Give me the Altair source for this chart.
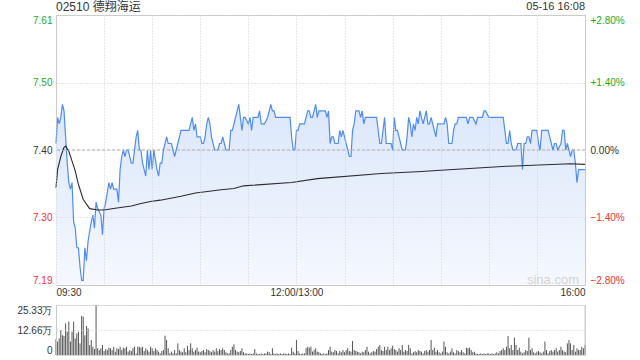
import altair as alt
import pandas as pd

# ---------------- data ----------------
TITLE = "02510 德翔海运"
STAMP = "05-16 16:08"
WATERMARK = "sina.com"

PREV_CLOSE = 7.40
Y_MIN, Y_MAX = 7.1928, 7.6072
PRICE_TICKS = [7.1928, 7.2964, 7.40, 7.5036, 7.6072]
PCT_TICKS = [-2.8, -1.4, 0.0, 1.4, 2.8]
TIME_TICKS = [0, 30, 60, 90, 120, 150, 180, 210, 240, 270, 300, 330]
VOL_TICKS = [0, 12.66, 25.33]

# (trading minute since 09:30, price)
PRICE_AM = [(0,7.41),(1,7.45),(2,7.44),(3,7.45),(4,7.47),(5,7.46),(6,7.42),(7,7.38),(8,7.35),(9,7.34),
            (10,7.35),(11,7.29),(12,7.28),(13,7.25),(14,7.25),(15,7.22),(16,7.20),(17,7.20),(18,7.25),
            (19,7.23),(20,7.26),(22,7.29),(23,7.30),(24,7.28),(25,7.32),(26,7.31),(28,7.30),(29,7.27),
            (30,7.31),(31,7.32),(33,7.35),(34,7.34),(35,7.35),(36,7.34),(38,7.34),(39,7.32),(40,7.37),
            (41,7.39),(42,7.40),(43,7.39),(44,7.40),(45,7.40),(47,7.38),(48,7.38),(50,7.42),(51,7.43),
            (52,7.40),(53,7.40),(54,7.38),(55,7.37),(56,7.36),(57,7.40),(58,7.37),(59,7.40),(60,7.37),
            (61,7.40),(63,7.37),(64,7.36),(65,7.38),(66,7.38),(67,7.40),(68,7.41),(69,7.42),(70,7.41),
            (72,7.41),(73,7.40),(74,7.39),(75,7.40),(77,7.42),(78,7.43),(80,7.43),(83,7.43),(84,7.44),
            (85,7.45),(86,7.43),(87,7.44),(88,7.42),(90,7.42),(91,7.41),(92,7.41),(93,7.42),(94,7.44),
            (95,7.45),(96,7.44),(97,7.42),(98,7.41),(99,7.40),(101,7.40),(102,7.41),(103,7.41),(104,7.42),
            (105,7.41),(106,7.40),(108,7.40),(109,7.43),(110,7.43),(112,7.45),(113,7.46),(114,7.47),
            (115,7.45),(116,7.43),(117,7.45),(118,7.45),(120,7.44),(121,7.45),(122,7.43),(123,7.45),
            (126,7.45),(127,7.46),(128,7.44),(130,7.44),(132,7.45),(134,7.47),(135,7.46),(136,7.46),
            (137,7.45),(146,7.45),(147,7.42),(148,7.40),(149,7.40),(150,7.43)]
PRICE_PM = [(151,7.43),(152,7.44),(155,7.44),(156,7.45),(157,7.46),(158,7.46),(159,7.45),(160,7.45),
            (162,7.47),(163,7.45),(164,7.46),(168,7.46),(169,7.45),(170,7.46),(171,7.41),(172,7.42),
            (173,7.42),(174,7.41),(176,7.41),(177,7.43),(178,7.42),(179,7.43),(180,7.42),(181,7.41),
            (182,7.40),(183,7.39),(184,7.39),(185,7.43),(186,7.44),(187,7.46),(189,7.46),(190,7.45),
            (191,7.46),(192,7.44),(193,7.45),(200,7.45),(201,7.43),(202,7.41),(203,7.41),(205,7.45),
            (206,7.41),(209,7.41),(210,7.40),(211,7.45),(212,7.43),(213,7.43),(214,7.42),(215,7.41),
            (216,7.40),(218,7.40),(219,7.42),(220,7.45),(221,7.44),(222,7.42),(223,7.44),(224,7.43),
            (225,7.45),(226,7.44),(227,7.46),(228,7.45),(229,7.44),(230,7.45),(231,7.46),(232,7.44),
            (233,7.44),(234,7.45),(235,7.44),(236,7.43),(237,7.42),(238,7.44),(242,7.44),(243,7.45),
            (244,7.44),(245,7.41),(247,7.41),(248,7.43),(249,7.44),(250,7.44),(251,7.45),(256,7.45),
            (257,7.44),(258,7.45),(260,7.45),(262,7.44),(263,7.45),(266,7.45),(267,7.46),(268,7.46),
            (270,7.45),(279,7.45),(280,7.43),(281,7.41),(282,7.41),(283,7.43),(284,7.41),(285,7.40),
            (287,7.40),(288,7.41),(290,7.41),(291,7.37),(292,7.41),(293,7.41),(294,7.42),(295,7.42),
            (296,7.41),(297,7.43),(300,7.43),(301,7.41),(302,7.40),(303,7.43),(307,7.43),(308,7.42),
            (309,7.41),(310,7.40),(311,7.41),(312,7.41),(313,7.40),(315,7.41),(316,7.43),(317,7.43),
            (318,7.40),(319,7.41),(320,7.40),(321,7.39),(322,7.40),(323,7.40),(324,7.38),(325,7.35),
            (326,7.37),(330,7.37)]

# average price line
AVG = [(0,7.342),(1,7.37),(3,7.39),(5,7.404),(6,7.406),(8,7.398),(10,7.383),(12,7.368),(14,7.347),
       (17,7.324),(19,7.317),(21,7.310),(26,7.308),(30,7.308),(38,7.311),(47,7.314),(53,7.318),
       (59,7.321),(65,7.323),(78,7.329),(87,7.334),(103,7.339),(111,7.341),(117,7.345),(147,7.350),
       (163,7.356),(203,7.364),(228,7.367),(240,7.369),(281,7.375),(321,7.379),(330,7.378)]

# volume per minute, in 万 shares
VOL_OPEN = [8.0, 6.8, 8.4, 12.7, 10.0, 9.6, 16.0, 11.8, 16.9, 6.8, 11.8, 16.9, 8.4, 11.0, 11.8,
            5.9, 19.8, 19.4, 10.0, 14.7, 13.5, 5.0, 7.6, 4.2, 3.0, 25.33, 3.4]
VOL_AM = [2.5,3.4,5.1,2.0,3.0,2.5,3.7,3.4,2.5,4.2,
          1.7,3.4,3.0,4.2,2.5,3.7,3.4,4.2,1.7,2.5,
          2.0,3.4,4.2,0.8,4.2,4.2,3.7,4.2,2.0,3.4,
          2.5,1.7,4.2,3.4,2.0,3.4,2.5,1.7,0.8,2.0,
          2.5,9.8,7.6,3.4,0.8,1.7,0.8,2.5,0.8,5.9,
          2.5,1.7,1.4,3.4,1.4,4.7,2.5,5.9,3.4,1.7,
          2.5,3.7,1.7,1.4,2.0,2.5,1.4,3.0,2.5,2.0,
          1.4,2.5,1.7,3.4,2.0,3.0,2.5,3.4,2.5,1.4,
          0.8,0.8,2.5,4.2,5.4,2.5,1.7,1.4,2.0,3.4,
          1.4,0.8,0.8,0.5,0.8,0.5,0.8,3.0,0.8,0.5,
          0.5,0.8,0.5,0.8,
          0.8,1.7,1.4,0.5,3.4,0.8,0.5,0.8,0.5,0.8,
          0.5,0.8,0.8,0.5,0.8,0.5,3.7,1.7,0.8,7.6,
          2.0,0.8,0.5,0.8,0.8,3.4,4.2,3.7,4.2,1.7,
          2.5,3.4,1.7,1.4,0.8]
VOL_PM = [0.5,0.8,0.5,0.8,
          2.5,4.2,1.7,1.4,2.5,2.0,0.8,2.0,1.4,2.5,
          1.4,2.5,3.4,2.0,1.7,7.1,2.5,2.0,1.7,1.4,
          0.8,1.7,1.4,2.5,4.2,1.7,0.8,1.4,2.0,1.7,
          3.0,4.2,5.1,2.5,2.0,4.2,2.5,4.2,2.5,3.4,
          4.7,3.0,2.5,1.7,3.4,2.5,5.1,1.7,2.5,2.0,
          5.1,3.4,0.8,1.4,2.0,1.4,2.5,2.0,1.7,0.8,
          2.0,2.5,1.7,2.5,7.6,2.5,3.7,1.7,2.5,1.4,
          0.8,1.7,6.8,4.2,1.4,0.8,1.7,3.4,1.4,0.8,
          2.5,2.0,1.4,2.5,1.4,0.8,3.7,3.4,3.7,2.5,
          1.4,1.7,0.8,0.5,0.5,0.8,0.5,0.8,0.5,0.8,
          0.8,0.5,0.8,0.5,0.8,
          1.4,0.8,2.0,2.5,3.4,2.5,4.2,9.6,3.4,5.1,
          2.5,8.8,5.1,2.5,3.7,1.7,0.8,1.4,2.5,2.0,
          8.8,2.5,3.4,1.4,0.8,1.7,2.0,1.4,0.8,1.7,
          6.8,2.5,0.8,2.0,2.5,1.7,2.5,3.4,1.7,2.5,
          4.2,2.5,1.7,1.4,5.9,7.6,5.9,2.5,5.1,1.7,
          3.4,2.5,2.5,4.2,3.4,5.1]

# ---------------- tables ----------------
price_df = pd.DataFrame(PRICE_AM + PRICE_PM, columns=["t", "price"])
avg_df = pd.DataFrame(AVG, columns=["t", "price"])
vol_all = VOL_OPEN + VOL_AM + VOL_PM
vol_df = pd.DataFrame({"t": list(range(len(vol_all))), "vol": vol_all})
prev_df = pd.DataFrame({"price": [PREV_CLOSE]})
pct_df = pd.DataFrame({"pct": PCT_TICKS})
title_df = pd.DataFrame({"label": [TITLE]})
stamp_df = pd.DataFrame({"label": [STAMP]})
wm_df = pd.DataFrame({"label": [WATERMARK]})
frame_df = pd.DataFrame({"t": [330]})

# ---------------- style ----------------
FONT = "Liberation Sans, Noto Sans CJK SC, sans-serif"
GREEN = "#1fa81f"
RED = "#f03232"
DARK = "#333333"
GRID = "#d0d0d0"
BLUE = "#4f8cf0"
W, H, VH = 529, 270, 50

xscale = alt.Scale(domain=[0, 330], nice=False, zero=False)
yscale = alt.Scale(domain=[Y_MIN, Y_MAX], nice=False, zero=False)

x_axis = alt.Axis(
    values=TIME_TICKS,
    labelExpr="datum.value == 0 ? '09:30' : datum.value == 150 ? '12:00/13:00' : datum.value == 330 ? '16:00' : ''",
    labelFlush=True, labelOverlap=False, ticks=False, domain=False,
    grid=True, gridColor=GRID, gridDash=[1, 2], labelPadding=2,
    labelColor=DARK, title=None, zindex=1, minExtent=15, maxExtent=15,
)
y_axis = alt.Axis(
    values=PRICE_TICKS, format=".2f", labelFlush=True, labelOverlap=False,
    ticks=False, domain=False, grid=True, gridColor=GRID, gridDash=[1, 2],
    labelPadding=4, title=None, zindex=1, minExtent=55, maxExtent=55,
    labelColor={"condition": [{"test": "datum.value > 7.401", "value": GREEN},
                              {"test": "datum.value < 7.399", "value": RED}],
                "value": DARK},
)
pct_axis = alt.Axis(
    orient="right", values=PCT_TICKS,
    labelExpr="(datum.value > 0 ? '+' : '') + format(datum.value, '.2f') + '%'",
    labelFlush=True, labelOverlap=False, ticks=False, domain=False, grid=False,
    labelPadding=5, title=None,
    labelColor={"condition": [{"test": "datum.value > 0.001", "value": GREEN},
                              {"test": "datum.value < -0.001", "value": RED}],
                "value": DARK},
)
vol_axis = alt.Axis(
    values=VOL_TICKS,
    labelExpr="datum.value == 0 ? '0' : format(datum.value, '.2f') + '万'",
    labelFlush=True, labelOverlap=False, ticks=False, domain=True, domainColor="#c8c8c8",
    grid=True, gridColor=GRID, gridDash=[1, 2], labelPadding=4, labelColor=DARK,
    title=None, zindex=1, minExtent=55, maxExtent=55,
)

X = alt.X("t:Q", scale=xscale, axis=x_axis)
Y = alt.Y("price:Q", scale=yscale, axis=y_axis)

area = alt.Chart(price_df).mark_area(
    color=alt.Gradient(gradient="linear", x1=1, y1=0, x2=1, y2=1,
                       stops=[alt.GradientStop(color="#dbe7fb", offset=0),
                              alt.GradientStop(color="#f5f8fe", offset=1)])
).encode(x=X, y=Y, y2=alt.datum(Y_MIN))

prev_rule = alt.Chart(prev_df).mark_rule(color="#a8a8a8", strokeDash=[3, 2], strokeWidth=1).encode(y=Y)

price_line = alt.Chart(price_df).mark_line(color=BLUE, strokeWidth=1.2).encode(x=X, y=Y)
avg_line = alt.Chart(avg_df).mark_line(color="#2b2b2b", strokeWidth=1.1).encode(x=X, y=Y)

title_txt = alt.Chart(title_df).mark_text(
    align="left", baseline="middle", font=FONT, fontSize=12, color=DARK
).encode(x=alt.value(0), y=alt.value(-8), text="label:N")
stamp_txt = alt.Chart(stamp_df).mark_text(
    align="right", baseline="middle", font=FONT, fontSize=11, color=DARK
).encode(x=alt.value(W), y=alt.value(-8), text="label:N")
wm_txt = alt.Chart(wm_df).mark_text(
    align="center", baseline="middle", font=FONT, fontSize=13, color="#d4d4d4"
).encode(x=alt.value(497), y=alt.value(265), text="label:N")

inner = alt.layer(area, prev_rule, price_line, avg_line, title_txt, stamp_txt, wm_txt)

pct_layer = alt.Chart(pct_df).mark_point(opacity=0).encode(
    y=alt.Y("pct:Q", scale=alt.Scale(domain=[-2.8, 2.8], nice=False, zero=False), axis=pct_axis)
)

price_chart = alt.layer(inner, pct_layer).resolve_scale(y="independent").properties(
    width=W, height=H,
    view=alt.ViewBackground(stroke="#c8c8c8", strokeWidth=1),
)

vol_bars = alt.Chart(vol_df).mark_rule(color="#555555", strokeWidth=1).encode(
    x=alt.X("t:Q", scale=xscale, axis=None),
    y=alt.Y("vol:Q", scale=alt.Scale(domain=[0, 25.33], nice=False, zero=True), axis=vol_axis),
    y2=alt.datum(0),
)
vol_frame = alt.Chart(frame_df).mark_rule(color="#c8c8c8", strokeWidth=1).encode(
    x=alt.X("t:Q", scale=xscale, axis=None)
)
vol_chart = alt.layer(vol_bars, vol_frame).properties(width=W, height=VH)

chart = alt.vconcat(price_chart, vol_chart, spacing=3).properties(
    padding={"left": 0, "top": 0, "right": 0, "bottom": 0}
).configure_view(strokeWidth=0).configure_axis(
    labelFont=FONT, labelFontSize=11
).configure(background="white")

chart.save("out.html", embed_options={"renderer": "svg", "actions": False})
